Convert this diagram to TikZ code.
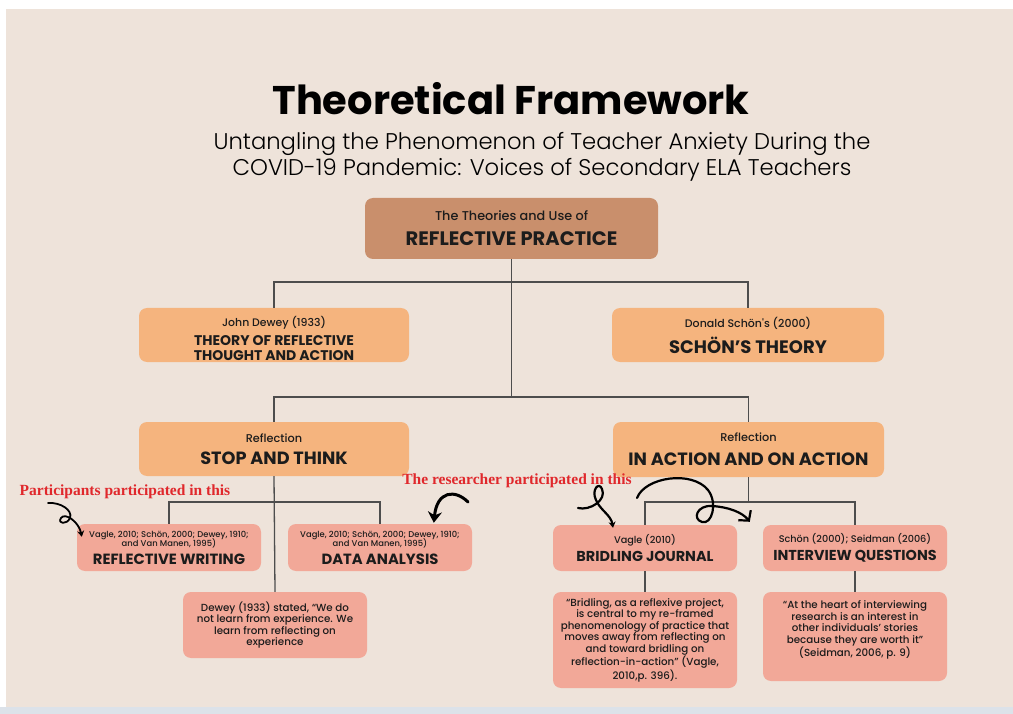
\documentclass[tikz,border=0pt]{standalone}
\usepackage{fontspec}
\setmainfont{Poppins}
\newfontfamily\popmed{Poppins Medium}
\newfontfamily\poplight{Poppins Light}
\newfontfamily\notefont{Liberation Serif}
\usetikzlibrary{arrows.meta}

\definecolor{paper}{HTML}{EEE3DA}
\definecolor{stripe}{HTML}{DCE2E9}
\definecolor{rootfill}{HTML}{C98F6C}
\definecolor{orangefill}{HTML}{F5B47E}
\definecolor{pinkfill}{HTML}{F2A898}
\definecolor{linegray}{HTML}{4D4D4D}
\definecolor{notered}{HTML}{E0282C}
\definecolor{ink}{HTML}{1C1C1C}

\newcommand{\setsz}[2]{\fontsize{#1}{#2}\selectfont}

\tikzset{
  box/.style={rounded corners=8pt, inner sep=0pt, align=center, text=ink},
  rootbox/.style={box, fill=rootfill},
  obox/.style={box, fill=orangefill},
  pbox/.style={box, fill=pinkfill},
  quote/.style={font=\popmed\setsz{10.3}{11.6}},
  conn/.style={draw=linegray, line width=1.3pt},
  note/.style={text=notered, font=\notefont\bfseries\setsz{15.5}{17}},
  scribble/.style={draw=black, line width=2.2pt, line cap=round, line join=round},
}

\begin{document}
\begin{tikzpicture}[x=1pt, y=-1pt]
  % page, paper and bottom stripe
  \useasboundingbox (0,0) rectangle (1013,714);
  \fill[white] (0,0) rectangle (1013,714);
  \fill[paper] (6,9) rectangle (1013,707);
  \fill[stripe] (0,707) rectangle (1013,714);

  % heading
  \node[anchor=base, text=black, font=\bfseries\setsz{40}{44}] (title) at (511,115) {Theoretical Framework};
  \node[anchor=base, text=black, font=\poplight\setsz{22.7}{25}] (sub1) at (542,150) {Untangling the Phenomenon of Teacher Anxiety During the};
  \node[anchor=base, text=black, font=\poplight\setsz{22.7}{25}] (sub2) at (542,176) {COVID-19 Pandemic: Voices of Secondary ELA Teachers};

  % boxes
  \node[rootbox, minimum width=293pt, minimum height=61pt, font=\setsz{19.5}{23}] (root) at (511.5,228.5)
    {{\popmed\setsz{12.8}{15}The Theories and Use of}\\[2pt]{\bfseries REFLECTIVE PRACTICE}};

  \node[obox, minimum width=270pt, minimum height=54pt, font=\setsz{14}{15}] (dewey) at (274,335)
    {{\popmed\setsz{10.9}{13}\rule{0pt}{16.5pt}John Dewey (1933)}\\[4pt]{\bfseries THEORY OF REFLECTIVE}\\{\bfseries THOUGHT AND ACTION}};
  \node[obox, minimum width=272pt, minimum height=54pt, font=\setsz{18}{21}] (schon) at (748,335)
    {{\popmed\setsz{11}{13}Donald Schön's (2000)}\\[5pt]{\bfseries SCHÖN'S THEORY}};

  \node[obox, minimum width=270pt, minimum height=54pt, font=\setsz{17.7}{20}] (stop) at (274,449)
    {{\popmed\setsz{11.3}{13}Reflection}\\[2pt]{\bfseries STOP AND THINK}};
  \node[obox, minimum width=271pt, minimum height=55pt, font=\setsz{17.8}{20}] (inaction) at (748.5,449.5)
    {{\popmed\setsz{11.3}{13}Reflection}\\[4pt]{\bfseries IN ACTION AND ON ACTION}};

  \node[pbox, minimum width=184pt, minimum height=47pt, font=\setsz{14.8}{17}] (rw) at (169,547.5)
    {{\popmed\setsz{8.4}{9}Vagle, 2010; Schön, 2000; Dewey, 1910;}\\[-8pt]{\popmed\setsz{8.4}{9}and Van Manen, 1995)}\\[1pt]{\bfseries REFLECTIVE WRITING}};
  \node[pbox, minimum width=184pt, minimum height=47pt, font=\setsz{14.8}{17}] (da) at (380,547.5)
    {{\popmed\setsz{8.4}{9}Vagle, 2010; Schön, 2000; Dewey, 1910;}\\[-8pt]{\popmed\setsz{8.4}{9}and Van Manen, 1995)}\\[1pt]{\bfseries DATA ANALYSIS}};

  \node[pbox, quote, minimum width=184pt, minimum height=66pt] (dq) at (275,625)
    {Dewey (1933) stated, “We do\\not learn from experience. We\\learn from reflecting on\\experience};

  \node[pbox, minimum width=184pt, minimum height=46pt, font=\setsz{14.4}{17}] (bj) at (645,548)
    {{\popmed\setsz{9.7}{11}Vagle (2010)}\\[1pt]{\bfseries BRIDLING JOURNAL}};
  \node[pbox, minimum width=184pt, minimum height=46pt, font=\setsz{14.4}{17}] (iq) at (855,548)
    {{\popmed\setsz{9.7}{11}Schön (2000); Seidman (2006)}\\[1pt]{\bfseries INTERVIEW QUESTIONS}};

  \node[pbox, quote, minimum width=184pt, minimum height=96pt] (bq) at (645,640)
    {“Bridling, as a reflexive project,\\is central to my re-framed\\phenomenology of practice that\\moves away from reflecting on\\and toward bridling on\\reflection-in-action” (Vagle,\\2010,p. 396).};
  \node[pbox, quote, minimum width=184pt, minimum height=89pt] (iqq) at (855,636.5)
    {“At the heart of interviewing\\research is an interest in\\other individuals’ stories\\because they are worth it”\\(Seidman, 2006, p. 9)\\[4pt]\mbox{}};

  % tree connectors
  \coordinate (bar1) at (511.5,282);
  \coordinate (bar2) at (511.5,397);
  \coordinate (bar3) at (0,502);
  \draw[conn] (dewey.north) -- (dewey.north |- bar1) -- (schon.north |- bar1) -- (schon.north);
  \draw[conn] (root.south) -- (bar2);
  \draw[conn] (stop.north) -- (stop.north |- bar2) -- (inaction.north |- bar2) -- (inaction.north);
  \draw[conn] (stop.south) -- (dq.north);
  \draw[conn] (rw.north) -- (rw.north |- bar3) -- (da.north |- bar3) -- (da.north);
  \draw[conn] (inaction.south) -- (inaction.south |- bar3);
  \draw[conn] (bj.north) -- (bj.north |- bar3) -- (iq.north |- bar3) -- (iq.north);
  \draw[conn] (bj.south) -- (bq.north);
  \draw[conn] (iq.south) -- (iqq.north);

  % hand-drawn notes
  \node[note, anchor=base] (partnote) at (125,495) {Participants participated in this};
  \node[note, anchor=base] (resnote) at (517,484) {The researcher participated in this};

  \coordinate (s1) at (48,503);
  \draw[scribble, line width=1.8pt, -{Stealth[length=6pt,width=7pt]}]
    (s1) .. controls (60,502) and (73,510) .. (70,518)
         .. controls (67,525) and (57,524) .. (61,518)
         .. controls (65,512) and (79,522) .. ([shift={(5,13)}]rw.north west);

  \coordinate (s2) at (468,502);
  \draw[scribble, line width=3pt, -{Stealth[length=11pt,width=14pt]}]
    (s2) .. controls (455,489) and (437,491) .. ([shift={(146,-1)}]da.north west);

  \coordinate (s3) at (578,508);
  \draw[scribble, -{Stealth[length=6pt,width=7pt]}]
    (s3) .. controls (590,511) and (607,500) .. (602,489)
         .. controls (599,481) and (591,490) .. (596,500)
         .. controls (600,510) and (611,515) .. ([shift={(-32,3)}]bj.north);

  \coordinate (s4) at (637,498);
  \draw[scribble, -{Straight Barb[length=7pt,width=16pt]}]
    (s4) .. controls (645,477) and (692,470) .. (708,490)
         .. controls (718,503) and (712,525) .. (702,522)
         .. controls (692,519) and (697,505) .. (712,506)
         .. controls (728,507) and (742,512) .. ([shift={(-13,-3)}]iq.north west);
\end{tikzpicture}
\end{document}
